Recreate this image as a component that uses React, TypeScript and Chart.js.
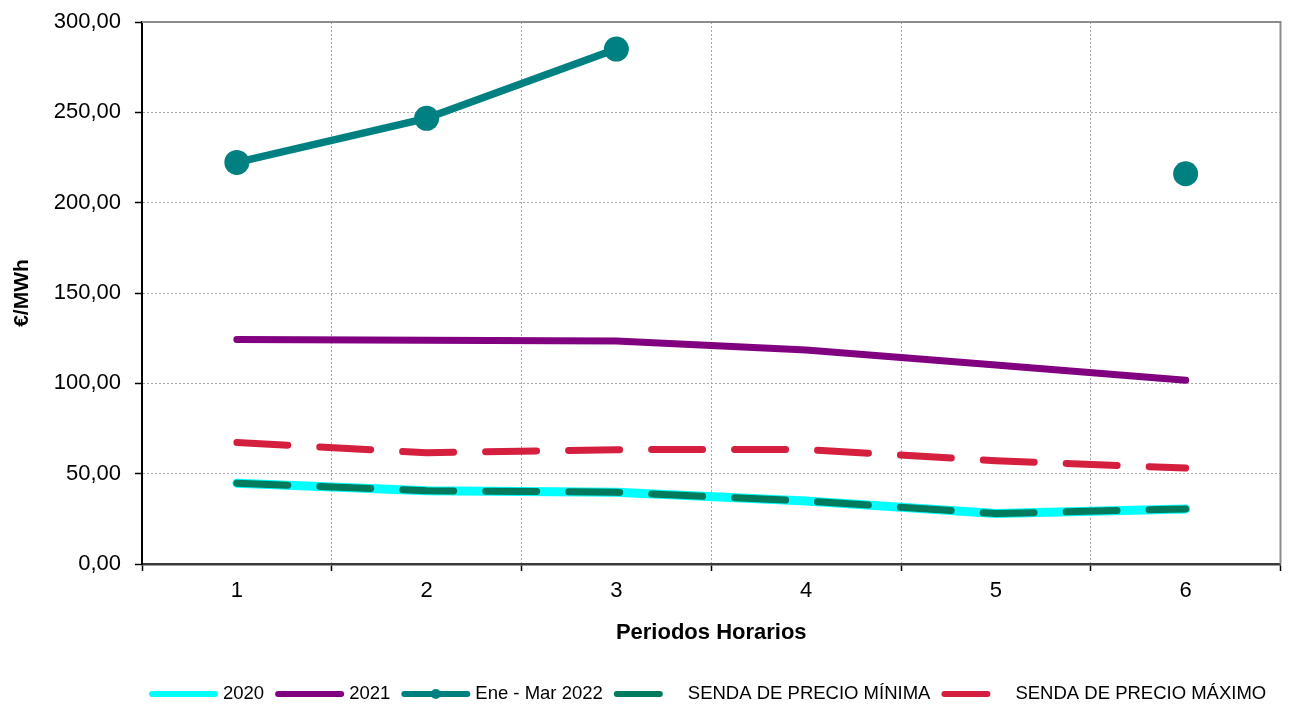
import React, { useEffect, useRef } from 'react';
import { Chart, registerables } from 'chart.js';

Chart.register(...registerables);

const categories = ['1', '2', '3', '4', '5', '6'];
const yTickValues = [0, 50, 100, 150, 200, 250, 300];
const serie2020 = [44.7, 40.6, 39.7, 34.9, 27.9, 30.5];
const serie2021 = [124.3, 123.9, 123.4, 118.5, 110.2, 101.7];
const serieEneMar2022 = [222.3, 246.7, 285.0, null, null, 216.0];
const sendaMinima = [44.7, 40.6, 39.7, 34.9, 27.9, 30.5];
const sendaMaximo = [67.3, 61.6, 63.3, 63.4, 57.2, 53.1];
const seriesLabels = ['2020', '2021', 'Ene - Mar 2022', 'SENDA DE PRECIO MÍNIMA', 'SENDA DE PRECIO MÁXIMO'];

const FONT = '"Liberation Sans", Arial, Helvetica, sans-serif';

const framePlugin = {
  id: 'frame',
  beforeDatasetsDraw(chart: any) {
    const { ctx, chartArea } = chart;
    ctx.save();
    ctx.strokeStyle = '#8c8c8c';
    ctx.lineWidth = 2;
    ctx.beginPath();
    ctx.moveTo(chartArea.left, chartArea.top);
    ctx.lineTo(chartArea.right, chartArea.top);
    ctx.lineTo(chartArea.right, chartArea.bottom);
    ctx.stroke();
    ctx.restore();
  },
};

const legendPlugin = {
  id: 'customLegend',
  afterDraw(chart: any) {
    const { ctx, chartArea } = chart;
    const datasets = chart.data.datasets;
    const y = 694;
    const sampleW = 69;
    const textGap = 5;
    const itemGap = 11;
    ctx.save();
    ctx.font = `18.5px ${FONT}`;
    ctx.textBaseline = 'middle';
    ctx.textAlign = 'left';
    let x = chartArea.left + 7;
    datasets.forEach((ds: any) => {
      const lw = 6;
      ctx.strokeStyle = ds.borderColor;
      ctx.lineWidth = lw;
      ctx.lineCap = 'round';
      ctx.setLineDash(ds.borderDash ? [43, 40] : []);
      ctx.beginPath();
      ctx.moveTo(x + lw / 2, y);
      ctx.lineTo(x + sampleW - lw / 2, y);
      ctx.stroke();
      ctx.setLineDash([]);
      if (ds.pointRadius > 0) {
        ctx.fillStyle = ds.borderColor;
        ctx.beginPath();
        ctx.arc(x + sampleW / 2, y, 5, 0, Math.PI * 2);
        ctx.fill();
      }
      ctx.fillStyle = '#000';
      const tx = x + sampleW + textGap;
      ctx.fillText(ds.label, tx, y);
      x = tx + ctx.measureText(ds.label).width + itemGap;
    });
    ctx.restore();
  },
};

export default function App() {
  const canvasRef = useRef<HTMLCanvasElement | null>(null);

  useEffect(() => {
    if (!canvasRef.current) return;
    const gridColor = '#a8a8a8';
    const chart = new Chart(canvasRef.current, {
      type: 'line',
      data: {
        labels: categories,
        datasets: [
          {
            label: seriesLabels[0],
            data: serie2020,
            borderColor: '#00FFFF',
            backgroundColor: '#00FFFF',
            borderWidth: 9,
            pointRadius: 0,
            tension: 0,
            borderCapStyle: 'round',
            borderJoinStyle: 'round',
            order: 5,
          },
          {
            label: seriesLabels[1],
            data: serie2021,
            borderColor: '#800080',
            backgroundColor: '#800080',
            borderWidth: 7,
            pointRadius: 0,
            tension: 0,
            borderCapStyle: 'round',
            borderJoinStyle: 'round',
            order: 4,
          },
          {
            label: seriesLabels[2],
            data: serieEneMar2022,
            borderColor: '#008080',
            backgroundColor: '#008080',
            pointBackgroundColor: '#008080',
            pointBorderColor: '#008080',
            pointBorderWidth: 0,
            borderWidth: 7.5,
            pointRadius: 12.5,
            tension: 0,
            spanGaps: false,
            borderCapStyle: 'round',
            borderJoinStyle: 'round',
            order: 3,
          },
          {
            label: seriesLabels[3],
            data: sendaMinima,
            borderColor: '#007B5E',
            backgroundColor: '#007B5E',
            borderWidth: 7,
            borderDash: [51, 32],
            pointRadius: 0,
            tension: 0,
            borderCapStyle: 'round',
            borderJoinStyle: 'round',
            order: 1,
          },
          {
            label: seriesLabels[4],
            data: sendaMaximo,
            borderColor: '#D51F3E',
            backgroundColor: '#D51F3E',
            borderWidth: 7,
            borderDash: [51, 32],
            pointRadius: 0,
            tension: 0,
            borderCapStyle: 'round',
            borderJoinStyle: 'round',
            order: 2,
          },
        ],
      },
      options: {
        responsive: false,
        animation: false,
        events: [],
        layout: { padding: { top: 22, right: 11, bottom: 40, left: 0 } },
        plugins: {
          legend: { display: false },
          tooltip: { enabled: false },
          title: { display: false },
        },
        scales: {
          x: {
            type: 'category',
            offset: true,
            grid: {
              offset: true,
              color: gridColor,
              lineWidth: 1,
              tickLength: 7,
              tickColor: '#000',
              tickWidth: 1.5,
              tickBorderDash: [],
            },
            border: { color: '#3a3a3a', width: 2.5, dash: [2, 2] },
            ticks: {
              color: '#000',
              font: { family: FONT, size: 22 },
              padding: 7,
              maxRotation: 0,
            },
            title: {
              display: true,
              text: 'Periodos Horarios',
              color: '#000',
              font: { family: FONT, size: 22, weight: 'bold' },
              padding: { top: 0, bottom: 18 },
            },
            afterFit: (s: any) => {
              s.height = 100;
              s.paddingLeft = 0;
              s.paddingRight = 0;
            },
          },
          y: {
            min: 0,
            max: 300,
            afterBuildTicks: (s: any) => {
              s.ticks = yTickValues.map((v) => ({ value: v }));
            },
            grid: {
              color: gridColor,
              lineWidth: 1,
              tickLength: 7,
              tickColor: '#000',
              tickWidth: 1.5,
              tickBorderDash: [],
            },
            border: { color: '#000', width: 2, dash: [2, 2] },
            ticks: {
              color: '#000',
              font: { family: FONT, size: 22 },
              padding: 14,
              callback: (v: any) => Number(v).toFixed(2).replace('.', ','),
            },
            title: {
              display: true,
              text: '€/MWh',
              color: '#000',
              font: { family: FONT, size: 21, weight: 'bold' },
              padding: { top: 10, bottom: 0 },
            },
            afterFit: (s: any) => {
              s.width = 142;
              s.paddingTop = 0;
              s.paddingBottom = 0;
            },
          },
        },
      },
      plugins: [framePlugin, legendPlugin],
    } as any);
    return () => chart.destroy();
  }, []);

  return (
    <div style={{ position: 'absolute', left: 0, top: 0, width: 1293, height: 704, background: '#fff' }}>
      <canvas ref={canvasRef} width={1293} height={704} style={{ display: 'block' }} />
    </div>
  );
}
